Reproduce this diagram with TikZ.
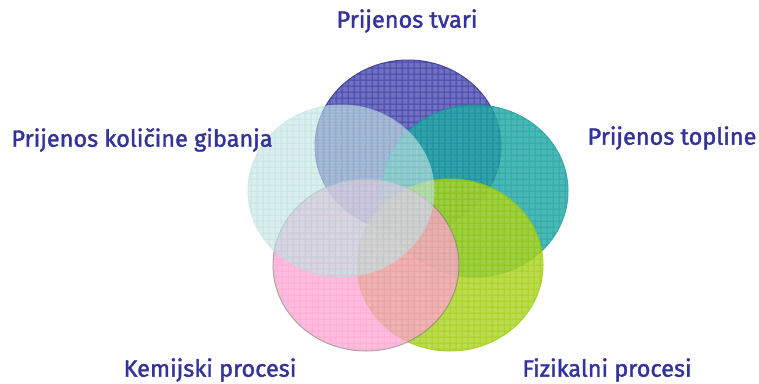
\documentclass[tikz,border=0pt]{standalone}
\usepackage{fontspec}
\setmainfont{Fira Sans}
\newfontfamily\lblfont{Fira Sans}[FakeBold=1.6]
\definecolor{txt}{HTML}{333399}
\definecolor{bluefill}{HTML}{6464BE}
\definecolor{bluegrid}{HTML}{3A3AA0}
\definecolor{blueline}{HTML}{333399}
\definecolor{tealfill}{HTML}{2AADA9}
\definecolor{tealgrid}{HTML}{0E9A96}
\definecolor{tealline}{HTML}{119999}
\definecolor{greenfill}{HTML}{B0D630}
\definecolor{greengrid}{HTML}{99C800}
\definecolor{greenline}{HTML}{99CC00}
\definecolor{pinkfill}{HTML}{FFA6D3}
\definecolor{pinkgrid}{HTML}{FF90C8}
\definecolor{pinkline}{HTML}{888888}
\definecolor{cyanfill}{HTML}{C8E6E6}
\definecolor{cyangrid}{HTML}{A8D6D6}
\definecolor{cyanline}{HTML}{BBDDDD}
\newcommand\vennblob[6]{%
  \begin{scope}[transparency group, opacity=#6]
    \begin{scope}
      \clip (#1,#2) ellipse [x radius=93, y radius=86];
      \fill[#3] (#1,#2) ellipse [x radius=93, y radius=86];
      \foreach \k in {-16,...,16} {
        \draw[#4, line width=1] ({#1+6*\k},{#2-95}) -- ({#1+6*\k},{#2+95});
        \draw[#4, line width=1] ({#1-100},{#2+6*\k}) -- ({#1+100},{#2+6*\k});
      }
    \end{scope}
    \draw[#5, line width=1] (#1,#2) ellipse [x radius=93, y radius=86];
  \end{scope}}
\tikzset{lbl/.style={text=txt, font=\lblfont\fontsize{23.5}{27}\selectfont, inner sep=0pt}}
\begin{document}
\begin{tikzpicture}[x=1pt,y=-1pt]
\useasboundingbox (0,0) rectangle (759,383);
\vennblob{408}{146}{bluefill}{bluegrid}{blueline}{0.92}
\vennblob{475}{191}{tealfill}{tealgrid}{tealline}{0.85}
\vennblob{450}{265}{greenfill}{greengrid}{greenline}{0.85}
\vennblob{366}{265}{pinkfill}{pinkgrid}{pinkline}{0.75}
\vennblob{341}{191}{cyanfill}{cyangrid}{cyanline}{0.65}
\node[lbl] (tvari) at (407,21) {Prijenos tvari};
\node[lbl] (topline) at (672,138) {Prijenos topline};
\node[lbl] (gibanja) at (142,140) {Prijenos količine gibanja};
\node[lbl] (kem) at (210,370) {Kemijski procesi};
\node[lbl] (fiz) at (607,370) {Fizikalni procesi};
\end{tikzpicture}
\end{document}
